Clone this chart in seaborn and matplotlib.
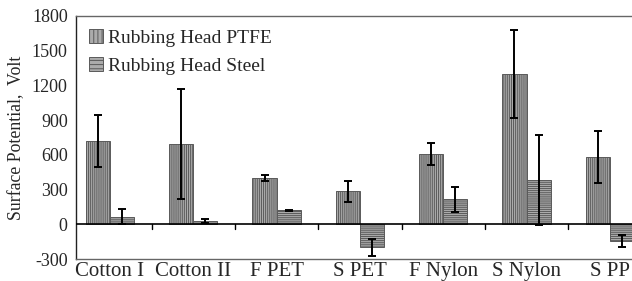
import numpy as np
import pandas as pd
import matplotlib.pyplot as plt
import seaborn as sns

categories = ['Cotton I', 'Cotton II', 'F PET', 'S PET', 'F Nylon', 'S Nylon', 'S PP']
series = ['Rubbing Head PTFE', 'Rubbing Head Steel']
ptfe = [720, 690, 400, 285, 610, 1300, 580]
ptfe_err = [225, 475, 25, 90, 95, 380, 225]
steel = [65, 30, 120, -200, 215, 380, -145]
steel_err = [65, 20, 5, 70, 110, 390, 50]
yticks = [-300, 0, 300, 600, 900, 1200, 1500, 1800]

df = pd.DataFrame({
    'material': categories * 2,
    'head': [series[0]] * len(categories) + [series[1]] * len(categories),
    'value': ptfe + steel,
})

sns.set_theme(style='white')
plt.rcParams['font.family'] = ['Liberation Serif', 'DejaVu Serif']
plt.rcParams['hatch.linewidth'] = 0.7

fig = plt.figure(figsize=(6.32, 2.81), dpi=100)
ax = fig.add_axes([76 / 632, 1 - 259 / 281, 556 / 632, 243 / 281])

sns.barplot(data=df, x='material', y='value', hue='head', order=categories,
            hue_order=series, width=0.58, palette=['#ababab', '#ababab'],
            edgecolor='#5a5a5a', linewidth=0.7, errorbar=None, ax=ax)

hatches = ['||||||||', '--------']
errs = [ptfe_err, steel_err]
for cont, h, err in zip(ax.containers, hatches, errs):
    xs = []
    ys = []
    for bar in cont:
        bar.set_hatch(h)
        if hasattr(bar, 'set_hatchcolor'):
            bar.set_hatchcolor('#888888')
        xs.append(bar.get_x() + bar.get_width() / 2)
        ys.append(bar.get_height())
    ax.errorbar(xs, ys, yerr=err, fmt='none', ecolor='black', elinewidth=1.4,
                capsize=3, capthick=1.4, zorder=5)

ax.axhline(0, color='black', lw=1.2, zorder=4)
for x in np.arange(0.5, len(categories) - 0.5, 1.0):
    ax.plot([x, x], [0, -45], color='black', lw=1.0, zorder=4)

ax.set_xlim(-0.408, 6.266)
ax.set_ylim(-300, 1800)
ax.set_yticks(yticks)
ax.set_yticklabels([str(v) for v in yticks], fontsize=13)
ax.tick_params(axis='y', direction='out', length=4, width=1, color='black', pad=2)
ax.tick_params(axis='x', length=0, pad=2, labelsize=15)
ax.set_xlabel('')
ax.set_ylabel('Surface Potential,  Volt', fontsize=12.8, labelpad=5)

for side in ['left', 'top', 'bottom']:
    ax.spines[side].set_linewidth(1.0)
ax.spines['left'].set_color('#222222')
ax.spines['right'].set_visible(False)
ax.spines['top'].set_color('#666666')
ax.spines['bottom'].set_color('#666666')

leg = ax.legend(loc='upper left', frameon=False, fontsize=14, handlelength=0.75,
                handleheight=0.75, handletextpad=0.25, labelspacing=0.55,
                borderaxespad=0.25, bbox_to_anchor=(0.0, 1.0))
for patch, h in zip(leg.get_patches(), hatches):
    patch.set_hatch(h[:4])
    if hasattr(patch, 'set_hatchcolor'):
        patch.set_hatchcolor('#888888')

fig.savefig('out.png', dpi=100)
